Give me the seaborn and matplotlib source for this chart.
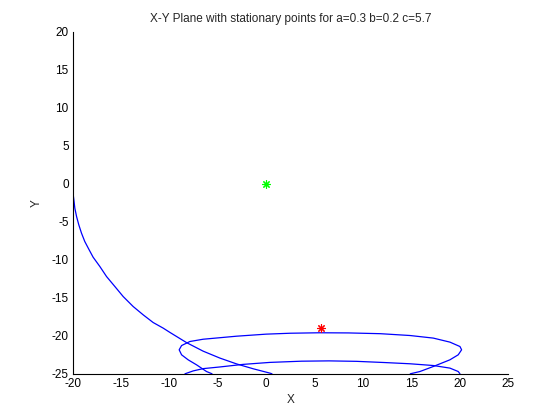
import pandas as pd
import matplotlib
matplotlib.use("Agg")
import matplotlib.pyplot as plt
import seaborn as sns

# trajectory pieces (clipped at y = -25)
seg_a_x = [-20.0, -19.89, -19.79, -19.61, -19.38, -19.10, -18.76, -18.31, -17.90, -17.20,
           -16.51, -15.65, -14.79, -13.76, -12.72, -11.69, -10.65, -9.96, -8.23, -6.52,
           -4.79, -3.06, -1.34, 0.38, 0.6]
seg_a_y = [-1.0, -2.11, -3.20, -4.30, -5.39, -6.49, -7.59, -8.68, -9.65, -10.88,
           -12.20, -13.51, -14.83, -16.14, -17.24, -18.25, -18.99, -19.55, -20.90, -22.02,
           -22.93, -23.70, -24.34, -24.91, -25.0]

seg_b_x = [14.9, 15.9, 17.28, 19.0, 19.86, 20.21, 20.04, 19.0, 17.28, 14.87,
           11.8, 8.5, 5.5, 2.5, 0.0, -3.06, -6.52, -7.89, -8.75, -9.0,
           -8.75, -8.07, -7.2, -6.17, -5.6]
seg_b_y = [-25.0, -24.70, -24.04, -23.16, -22.5, -21.84, -21.41, -20.83, -20.30, -19.96,
           -19.72, -19.62, -19.60, -19.66, -19.78, -20.05, -20.45, -20.75, -21.28, -21.84,
           -22.5, -23.16, -23.82, -24.70, -25.0]

seg_c_x = [20.04, 19.86, 19.0, 17.28, 14.87, 12.28, 9.35, 6.5, 3.66, 0.38,
           -2.38, -4.79, -6.52, -7.55, -8.4]
seg_c_y = [-25.0, -24.70, -24.25, -23.91, -23.68, -23.52, -23.36, -23.30, -23.34, -23.50,
           -23.76, -24.10, -24.32, -24.62, -25.0]

# stationary points
stat_x = [0.0105, 5.6895]
stat_y = [-0.035, -18.965]
stat_colors = ["#00ff00", "#ff0000"]

rows = []
for name, xs, ys in [("a", seg_a_x, seg_a_y), ("b", seg_b_x, seg_b_y), ("c", seg_c_x, seg_c_y)]:
    for i, (xv, yv) in enumerate(zip(xs, ys)):
        rows.append({"seg": name, "order": i, "x": xv, "y": yv})
df = pd.DataFrame(rows)

sns.set_theme(style="white")
plt.rcParams['font.family'] = ['Liberation Sans', 'DejaVu Sans']
plt.rcParams['font.size'] = 8
plt.rcParams['axes.unicode_minus'] = False

fig = plt.figure(figsize=(5.6, 4.2), dpi=100)
ax = fig.add_axes([0.13, 0.11, 0.777, 0.814])

sns.lineplot(data=df, x="x", y="y", units="seg", estimator=None, sort=False,
             color="blue", linewidth=0.9, ax=ax)

for xv, yv, c in zip(stat_x, stat_y, stat_colors):
    ax.plot([xv], [yv], linestyle="none", marker=(8, 2, 0), markersize=6,
            markeredgewidth=0.8, color=c)

ax.set_xlim(-20, 25)
ax.set_ylim(-25, 20)
ax.set_xticks(range(-20, 26, 5))
ax.set_yticks(range(-25, 21, 5))
ax.tick_params(direction="in", length=4, width=0.8, labelsize=8.5, colors="black", pad=3)
sns.despine(ax=ax)
for s in ["left", "bottom"]:
    ax.spines[s].set_color("black")
    ax.spines[s].set_linewidth(0.8)

ax.set_title("X-Y Plane with stationary points for a=0.3 b=0.2 c=5.7", fontsize=8.5, pad=7)
ax.set_xlabel("X", fontsize=8.5, labelpad=3)
ax.set_ylabel("Y", fontsize=8.5, labelpad=6)

fig.savefig("out.png", dpi=100, facecolor="white")
